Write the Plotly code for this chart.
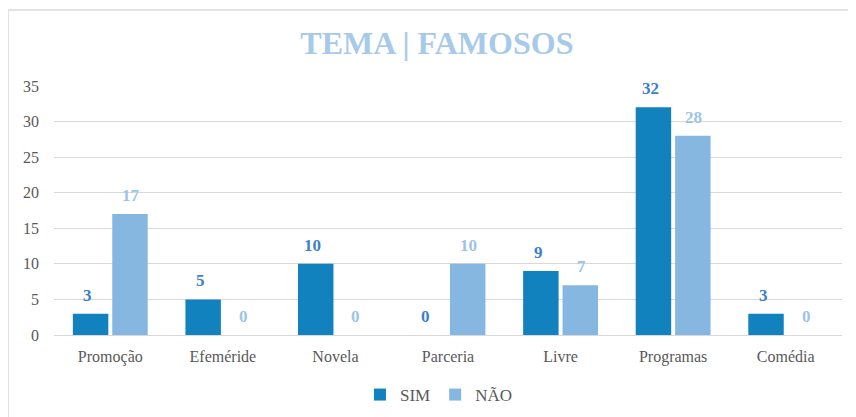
import plotly.graph_objects as go

categories = ["Promoção", "Efeméride", "Novela", "Parceria", "Livre", "Programas", "Comédia"]
sim_values = [3, 5, 10, 0, 9, 32, 3]
nao_values = [17, 0, 0, 10, 7, 28, 0]
y_ticks = [0, 5, 10, 15, 20, 25, 30, 35]

SIM_COLOR = "#1282BE"
NAO_COLOR = "#86B7E0"
SIM_LABEL = "#3C7FCB"
NAO_LABEL = "#9CC4E8"
SERIF = "Liberation Serif"

fig = go.Figure()
fig.add_trace(go.Bar(name="SIM", x=categories, y=sim_values, marker_color=SIM_COLOR,
                     marker_line_width=0))
fig.add_trace(go.Bar(name="NÃO", x=categories, y=nao_values, marker_color=NAO_COLOR,
                     marker_line_width=0))

annotations = []
for c, v in zip(categories, sim_values):
    annotations.append(dict(x=c, y=v, text="<b>%d</b>" % v, showarrow=False, xshift=-22.5, yshift=7,
                            yanchor="bottom", font=dict(family=SERIF, size=17, color=SIM_LABEL)))
for c, v in zip(categories, nao_values):
    annotations.append(dict(x=c, y=v, text="<b>%d</b>" % v, showarrow=False, xshift=20.5, yshift=7,
                            yanchor="bottom", font=dict(family=SERIF, size=17, color=NAO_LABEL)))

fig.update_layout(
    width=856, height=417,
    margin=dict(l=46, r=22, t=78, b=90, autoexpand=False),
    paper_bgcolor="white", plot_bgcolor="white",
    barmode="group", bargap=0.3, bargroupgap=0.1,
    title=dict(text="<b>TEMA | FAMOSOS</b>", x=0.501, xanchor="center", y=0.916, yanchor="middle",
               font=dict(family=SERIF, size=32, color="#A7CAEA")),
    showlegend=True,
    legend=dict(orientation="h", x=0.4885, xanchor="center", y=-0.241, yanchor="middle",
                font=dict(family=SERIF, size=17, color="#595959"), itemwidth=30,
                traceorder="normal"),
    annotations=annotations,
    font=dict(family=SERIF, color="#595959"),
)
fig.update_yaxes(range=[0, 35], tickvals=y_ticks, showgrid=True, gridcolor="#D9D9D9", gridwidth=1.3,
                 zeroline=False, showline=False, ticks="", ticklabelstandoff=14, automargin=False,
                 tickfont=dict(family=SERIF, size=16, color="#595959"))
fig.update_xaxes(showline=True, linecolor="#D9D9D9", linewidth=1.3, ticks="", automargin=False,
                 ticklabelstandoff=7,
                 tickfont=dict(family=SERIF, size=16, color="#595959"))

# chart frame (top and left edges visible)
fx = -46 / 788
fy = 325 / 249
fig.add_shape(type="line", xref="paper", yref="paper", x0=fx, x1=1.2, y0=fy, y1=fy,
              line=dict(color="#D9D9D9", width=1.5))
fig.add_shape(type="line", xref="paper", yref="paper", x0=fx, x1=fx, y0=fy, y1=-0.5,
              line=dict(color="#D9D9D9", width=1.5))

fig.write_html("out.html")
